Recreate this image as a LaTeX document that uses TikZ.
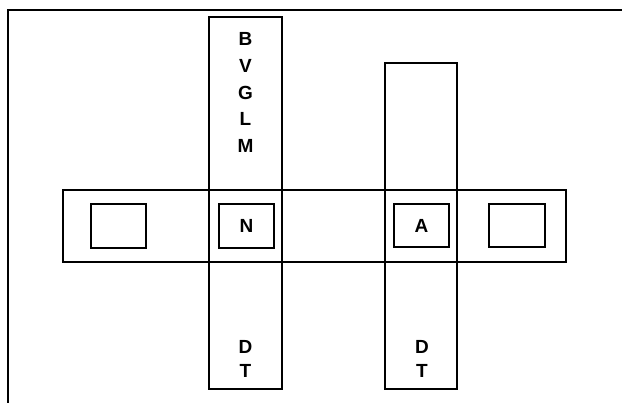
\documentclass[tikz,border=0pt]{standalone}
\usepackage{fontspec}
\setmainfont{Liberation Sans}
\begin{document}
\begin{tikzpicture}[x=1pt,y=-1pt,
  box/.style={draw,black,line width=2.8pt,inner sep=0pt,outer sep=0pt},
  lbl/.style={inner sep=0pt,align=center,font=\fontsize{19}{26.7}\selectfont\bfseries},
  lbldt/.style={inner sep=0pt,align=center,font=\fontsize{19}{24}\selectfont\bfseries}]
\useasboundingbox (0,0) rectangle (622,403);
% frame
\coordinate (fbl) at (8,403);
\coordinate (ftl) at (8,10);
\coordinate (ftr) at (622,10);
\draw[line width=2.3pt] (fbl) -- (ftl) -- (ftr);
% columns and band
\node[box,minimum width=73pt,minimum height=372pt] (col1) at (245.5,203) {};
\node[box,minimum width=72pt,minimum height=326pt] (col2) at (421,226) {};
\node[box,minimum width=503pt,minimum height=72pt] (band) at (314.5,226) {};
% small boxes
\node[box,minimum width=55pt,minimum height=44pt] (b1) at (118.5,226) {};
\node[box,minimum width=55pt,minimum height=44pt] (bN) at (246.5,226) {};
\node[box,minimum width=55pt,minimum height=43pt] (bA) at (421.5,225.5) {};
\node[box,minimum width=56pt,minimum height=43pt] (b4) at (517,225.5) {};
% labels
\node[lbl] (tN) at (bN) {N};
\node[lbl] (tA) at (bA) {A};
\node[lbl] (top1) at (245.5,92.5) {B\\V\\G\\L\\M};
\node[lbldt] (dt1) at (245.5,359) {D\\T};
\node[lbldt] (dt2) at (422,359) {D\\T};
\end{tikzpicture}
\end{document}
